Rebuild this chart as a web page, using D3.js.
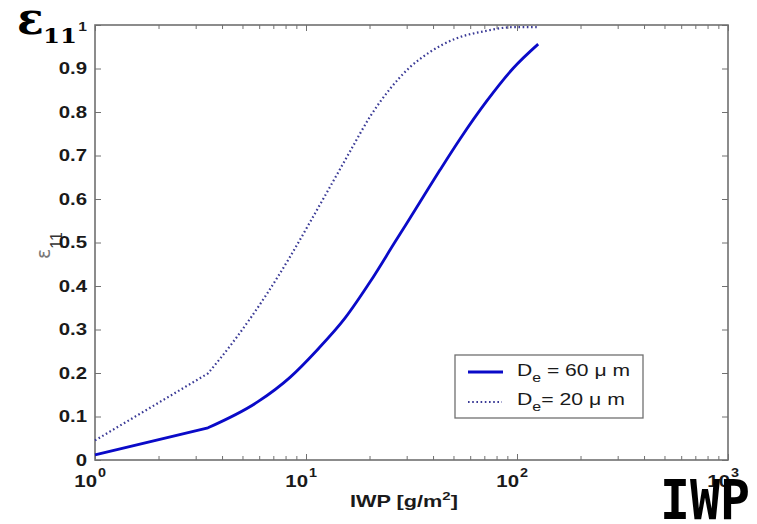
<!DOCTYPE html>
<html>
<head>
<meta charset="utf-8">
<script src="https://cdn.jsdelivr.net/npm/d3@7"></script>
<style>
  html, body { margin: 0; padding: 0; background: #fff; }
  svg { display: block; }
</style>
</head>
<body>
<svg id="chart" width="757" height="524"></svg>
<script>
// ---------------- data ----------------
const iwp60 = [1, 3.43, 5.92, 8.40, 11.3, 15.3, 20.1, 26.4, 34.7, 43.2, 53.7, 72.1, 95.7, 126];
const eps60 = [0.012, 0.074, 0.134, 0.190, 0.253, 0.326, 0.409, 0.501, 0.593, 0.667, 0.738, 0.826, 0.900, 0.956];

const iwp20 = [1, 3.43, 4.51, 6.53, 8.40, 10.4, 13.0, 16.2, 20.1, 25.0, 31.1, 38.7, 50.8, 70.5, 95.7, 124];
const eps20 = [0.045, 0.199, 0.271, 0.382, 0.467, 0.545, 0.628, 0.710, 0.789, 0.853, 0.903, 0.938, 0.968, 0.986, 0.995, 0.995];

const xMajorTicks = [1, 10, 100, 1000];
const xTickExponents = ["0", "1", "2", "3"];
const yTicks = [0, 0.1, 0.2, 0.3, 0.4, 0.5, 0.6, 0.7, 0.8, 0.9, 1];
const yTickLabels = ["0", "0.1", "0.2", "0.3", "0.4", "0.5", "0.6", "0.7", "0.8", "0.9", "1"];
const seriesNames = ["60", "20"];

// ---------------- layout ----------------
const L = 95, R = 728, T = 25, B = 460;
const svg = d3.select("#chart");
const x = d3.scaleLog().domain([1, 1000]).range([L, R]);
const y = d3.scaleLinear().domain([0, 1]).range([B, T]);

const frameColor = "#707070";
const solidColor = "#0a0ac8";
const dotColor = "#3a3a96";
const SX = 1.2; // horizontal stretch of the original raster text

function stretch(sel, sx, ax, ay) {
  sel.attr("transform", `translate(${ax},${ay}) scale(${sx},1) translate(${-ax},${-ay})`);
}
function fitWidth(sel, target, ax, ay) {
  const w = sel.node().getComputedTextLength();
  stretch(sel, target / w, ax, ay);
}

// minor ticks
const xMinor = [];
[1, 10, 100].forEach(d => { for (let k = 2; k <= 9; k++) xMinor.push(d * k); });

function styleAxis(g) {
  g.select(".domain").remove();
  g.selectAll("line").attr("stroke", frameColor).attr("stroke-width", 1);
}
svg.append("g").attr("transform", `translate(0,${B})`)
  .call(d3.axisBottom(x).tickValues(xMajorTicks).tickSize(-6).tickFormat("")).call(styleAxis);
svg.append("g").attr("transform", `translate(0,${B})`)
  .call(d3.axisBottom(x).tickValues(xMinor).tickSize(-4).tickFormat("")).call(styleAxis);
svg.append("g").attr("transform", `translate(0,${T})`)
  .call(d3.axisTop(x).tickValues(xMajorTicks).tickSize(-6).tickFormat("")).call(styleAxis);
svg.append("g").attr("transform", `translate(0,${T})`)
  .call(d3.axisTop(x).tickValues(xMinor).tickSize(-4).tickFormat("")).call(styleAxis);
svg.append("g").attr("transform", `translate(${L},0)`)
  .call(d3.axisLeft(y).tickValues(yTicks).tickSize(-6).tickFormat("")).call(styleAxis);
svg.append("g").attr("transform", `translate(${R},0)`)
  .call(d3.axisRight(y).tickValues(yTicks).tickSize(-6).tickFormat("")).call(styleAxis);

// frame
svg.append("rect").attr("x", L).attr("y", T).attr("width", R - L).attr("height", B - T)
  .attr("fill", "none").attr("stroke", frameColor).attr("stroke-width", 1.6);

// y axis label (rotated epsilon_11), drawn beneath tick labels
{
  const g = svg.append("g").attr("transform", "translate(50,259) rotate(-90)");
  const t = g.append("text").attr("x", 0).attr("y", 0)
    .attr("font-family", "DejaVu Sans, sans-serif").attr("font-size", 19).attr("fill", "#777");
  t.append("tspan").text("ε");
  t.append("tspan").attr("dy", 12).attr("font-size", 16).attr("fill", "#333")
    .attr("font-family", "Liberation Sans, Arial, sans-serif").text("11");
}

// y tick labels
yTicks.forEach((v, i) => {
  const ax = L - 8, ay = y(v) + 6;
  const t = svg.append("text").attr("x", ax).attr("y", ay)
    .attr("text-anchor", "end")
    .attr("font-family", "Liberation Sans, Arial, sans-serif")
    .attr("font-weight", "bold")
    .attr("font-size", v === 1 ? 13 : 17)
    .attr("fill", "#1a1a1a")
    .text(yTickLabels[i]);
  stretch(t, SX, ax, ay);
});

// x tick labels 10^n
xMajorTicks.forEach((v, i) => {
  const ax = x(v) + 2, ay = 487;
  const t = svg.append("text").attr("x", ax).attr("y", ay)
    .attr("text-anchor", "end")
    .attr("font-family", "Liberation Sans, Arial, sans-serif")
    .attr("font-weight", "bold").attr("font-size", 17).attr("fill", "#1a1a1a")
    .text("10");
  stretch(t, SX, ax, ay);
  const s = svg.append("text").attr("x", ax + 1).attr("y", ay - 10)
    .attr("font-family", "Liberation Sans, Arial, sans-serif")
    .attr("font-weight", "bold").attr("font-size", 12).attr("fill", "#1a1a1a")
    .text(xTickExponents[i]);
  stretch(s, SX, ax + 1, ay - 10);
});

// x axis label
{
  const t = svg.append("text").attr("x", 350).attr("y", 507)
    .attr("font-family", "Liberation Sans, Arial, sans-serif")
    .attr("font-weight", "bold").attr("font-size", 16).attr("fill", "#1a1a1a");
  t.append("tspan").text("IWP [g/m");
  t.append("tspan").attr("dy", -7).attr("font-size", 11).text("2");
  t.append("tspan").attr("dy", 7).text("]");
  fitWidth(t, 108, 350, 507);
}

// lines: straight first segment (kink at the second point), smooth afterwards
function drawSeries(xs, ys, attrs) {
  const pts = xs.map((v, i) => [x(v), y(ys[i])]);
  const head = d3.line()(pts.slice(0, 2));
  const tail = d3.line().curve(d3.curveMonotoneX)(pts.slice(1));
  const p = svg.append("path").attr("d", head + tail.replace(/^M[^A-Za-z]*/, m => "L" + m.slice(1)))
    .attr("fill", "none");
  Object.entries(attrs).forEach(([k, v]) => p.attr(k, v));
}
drawSeries(iwp20, eps20, { stroke: dotColor, "stroke-width": 2.2, "stroke-dasharray": "1.6,2.6" });
drawSeries(iwp60, eps60, { stroke: solidColor, "stroke-width": 2.8, "stroke-linejoin": "round" });

// legend
{
  svg.append("rect").attr("x", 455).attr("y", 355).attr("width", 188).attr("height", 63)
    .attr("fill", "#fff").attr("stroke", frameColor).attr("stroke-width", 1.3);
  svg.append("line").attr("x1", 468).attr("x2", 503).attr("y1", 372).attr("y2", 372)
    .attr("stroke", solidColor).attr("stroke-width", 2.8);
  svg.append("line").attr("x1", 468).attr("x2", 502).attr("y1", 402).attr("y2", 402)
    .attr("stroke", dotColor).attr("stroke-width", 2).attr("stroke-dasharray", "1.6,2.6");

  const rows = [
    { y: 376, eq: " = ", w: 113 },
    { y: 405, eq: "= ", w: 108 }
  ];
  rows.forEach((r, i) => {
    const t = svg.append("text").attr("x", 517).attr("y", r.y)
      .attr("font-family", "Liberation Sans, Arial, sans-serif")
      .attr("font-size", 16).attr("fill", "#1a1a1a");
    t.append("tspan").text("D");
    t.append("tspan").attr("dy", 6).attr("font-size", 12).text("e");
    t.append("tspan").attr("dy", -6).text(r.eq + seriesNames[i] + " μ m");
    fitWidth(t, r.w, 517, r.y);
  });
}

// big annotations
{
  svg.append("text").attr("x", 17).attr("y", 34)
    .attr("font-family", "DejaVu Serif, serif").attr("font-weight", "bold")
    .attr("font-size", 44).attr("fill", "#000").text("ε");
  const s = svg.append("text").attr("x", 43).attr("y", 43)
    .attr("font-family", "DejaVu Serif, serif").attr("font-weight", "bold")
    .attr("font-size", 21).attr("fill", "#000").text("11");
  fitWidth(s, 34, 43, 43);

  const w = svg.append("text").attr("x", 660).attr("y", 519)
    .attr("font-family", "DejaVu Sans Mono, monospace").attr("font-weight", "bold")
    .attr("font-size", 56).attr("fill", "#000").text("IWP");
  fitWidth(w, 90, 660, 519);
}
</script>
</body>
</html>
